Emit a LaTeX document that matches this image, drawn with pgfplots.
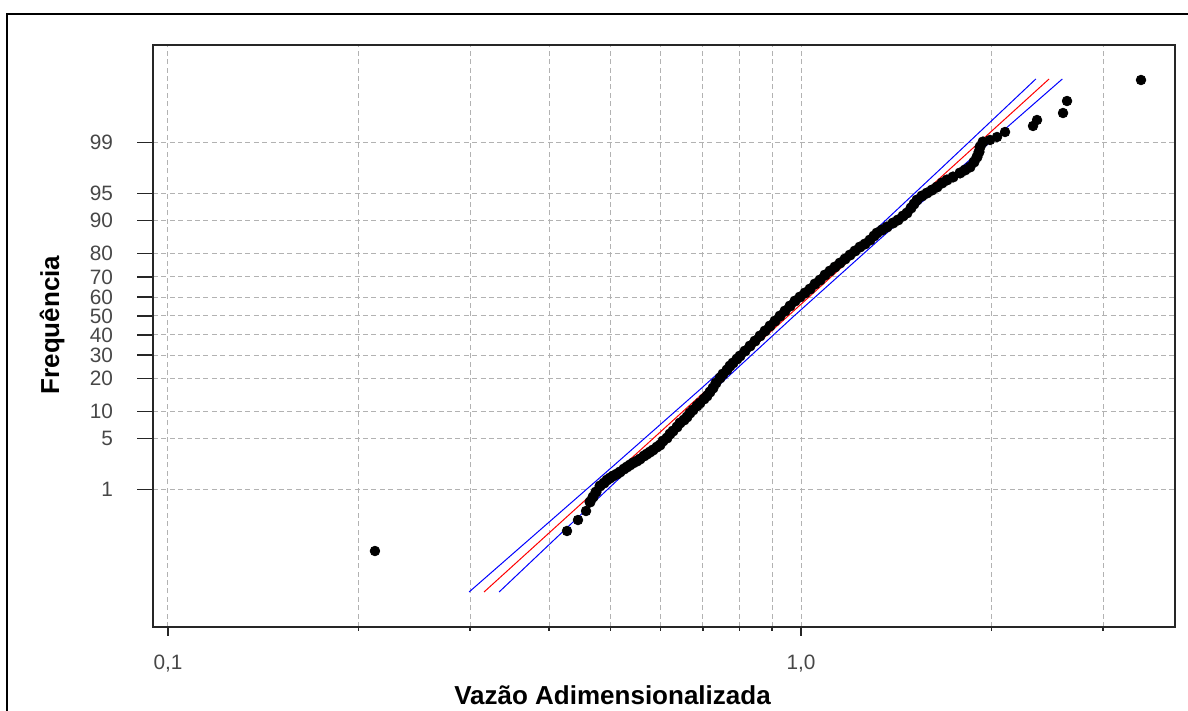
\documentclass[border=0pt]{standalone}
\usepackage{fontspec}
\setmainfont{Liberation Sans}
\usepackage{pgfplots}
\pgfplotsset{compat=1.18}

\begin{document}
\begin{tikzpicture}[x=1pt,y=1pt]
\useasboundingbox (0,0) rectangle (594,355.5);
% outer frame (only left and top edges are inside the picture)
\draw[line width=1pt] (3.25,0) -- (3.25,348.35) -- (594,348.35);

\begin{axis}[
    scale only axis,
    width=511pt, height=291pt,
    at={(76.5pt,42pt)}, anchor=south west,
    xmode=log,
    xmin=0.09469, xmax=3.898,
    ymin=-4.175, ymax=3.638,
    xtick={0.1,1},
    xticklabels={{\textnormal{0,1}},{\textnormal{1,0}}},
    minor xtick={0.2,0.3,0.4,0.5,0.6,0.7,0.8,0.9,2,3},
    ytick={-2.3263,-1.6449,-1.2816,-0.8416,-0.5244,-0.2533,0,0.2533,0.5244,0.8416,1.2816,1.6449,2.3263},
    yticklabels={1,5,10,20,30,40,50,60,70,80,90,95,99},
    tick pos=left,
    tick align=outside,
    major tick length=8pt,
    minor tick length=2pt,
    xtick style={/pgfplots/major tick length=4.5pt},
    tick style={black!85, line width=0.75pt},
    axis line style={black!85, line width=0.75pt},
    grid=both,
    major grid style={draw=black!30, line width=0.5pt, dash pattern=on 2.5pt off 1.7pt},
    minor grid style={draw=black!30, line width=0.5pt, dash pattern=on 2.5pt off 1.7pt},
    ticklabel style={font=\fontsize{10.4}{12}\selectfont, text=black!72},
    yticklabel style={xshift=-8.5pt},
    xticklabel style={yshift=-2.7pt},
]
% isolated sample points in the tails
\addplot[only marks, mark=*, mark size=2.4pt, black] coordinates {
(0.2123,-3.155) (0.4269,-2.886) (0.4443,-2.739) (0.4575,-2.618)
(1.9888,2.363) (2.0401,2.403) (2.1003,2.470)
(2.3254,2.551) (2.3595,2.631) (2.5936,2.725) (2.6316,2.886) (3.4445,3.168)
};
% dense part of the sample
\addplot[only marks, mark=*, mark size=2.6pt, black] coordinates {
(0.4642,-2.497)
(0.4693,-2.430) (0.4744,-2.363) (0.4814,-2.282) (0.4884,-2.242) (0.4938,-2.202)
(0.4992,-2.175) (0.5047,-2.148) (0.5121,-2.121) (0.5177,-2.094) (0.5253,-2.054)
(0.5310,-2.027) (0.5369,-2.000) (0.5428,-1.973) (0.5507,-1.947) (0.5568,-1.920)
(0.5649,-1.879) (0.5711,-1.853) (0.5774,-1.826) (0.5837,-1.799) (0.5923,-1.759)
(0.5988,-1.732) (0.6053,-1.678) (0.6142,-1.638) (0.6209,-1.584) (0.6278,-1.544)
(0.6370,-1.490) (0.6439,-1.436) (0.6534,-1.396) (0.6606,-1.356) (0.6678,-1.302)
(0.6751,-1.262) (0.6850,-1.208) (0.6925,-1.168) (0.7027,-1.114) (0.7104,-1.074)
(0.7182,-1.020) (0.7261,-0.967) (0.7340,-0.899) (0.7448,-0.832) (0.7530,-0.779)
(0.7640,-0.725) (0.7724,-0.671) (0.7809,-0.631) (0.7923,-0.577) (0.8010,-0.537)
(0.8157,-0.470) (0.8307,-0.403) (0.8459,-0.336) (0.8615,-0.268) (0.8773,-0.201)
(0.8934,-0.134) (0.9098,-0.067) (0.9264,0.000) (0.9435,0.067) (0.9608,0.134)
(0.9784,0.201) (0.9964,0.255) (1.0147,0.309) (1.0333,0.362) (1.0522,0.430)
(1.0716,0.483) (1.0912,0.550) (1.1113,0.604) (1.1317,0.658) (1.1524,0.711)
(1.1736,0.765) (1.1951,0.819) (1.2171,0.873) (1.2394,0.926) (1.2621,0.967)
(1.2853,1.020) (1.3041,1.074) (1.3184,1.114) (1.3427,1.155) (1.3673,1.195)
(1.3975,1.248) (1.4231,1.289) (1.4492,1.342) (1.4705,1.383) (1.4920,1.450)
(1.5084,1.504) (1.5250,1.557) (1.5530,1.611) (1.5815,1.651) (1.6105,1.691)
(1.6401,1.732) (1.6702,1.785) (1.7008,1.826) (1.7384,1.866) (1.7832,1.920)
(1.8159,1.960) (1.8493,2.000) (1.8764,2.067) (1.8970,2.134) (1.9108,2.202)
(1.9178,2.269) (1.9388,2.336)
};
% fitted lognormal line
\addplot[red, line width=0.5pt] coordinates {
(0.3157,-3.705) (0.3897,-3) (0.5252,-2) (0.7078,-1) (0.9539,0)
(1.2856,1) (1.7326,2) (2.3351,3) (2.4654,3.182)
};
% confidence bounds
\addplot[blue, line width=0.5pt] coordinates {
(0.2990,-3.705) (0.3721,-3) (0.5072,-2) (0.6898,-1) (0.9333,0)
(1.2529,1) (1.6735,2) (2.2300,3) (2.3494,3.182)
};
\addplot[blue, line width=0.5pt] coordinates {
(0.3335,-3.705) (0.4080,-3) (0.5437,-2) (0.7262,-1) (0.9749,0)
(1.3190,1) (1.7939,2) (2.4451,3) (2.5872,3.182)
};
\end{axis}

\node[font=\bfseries\fontsize{13}{15}\selectfont, anchor=base] at (306.25,3) {Vazão Adimensionalizada};
\node[font=\bfseries\fontsize{13}{15}\selectfont, rotate=90] at (26,193) {Frequência};
\end{tikzpicture}
\end{document}
